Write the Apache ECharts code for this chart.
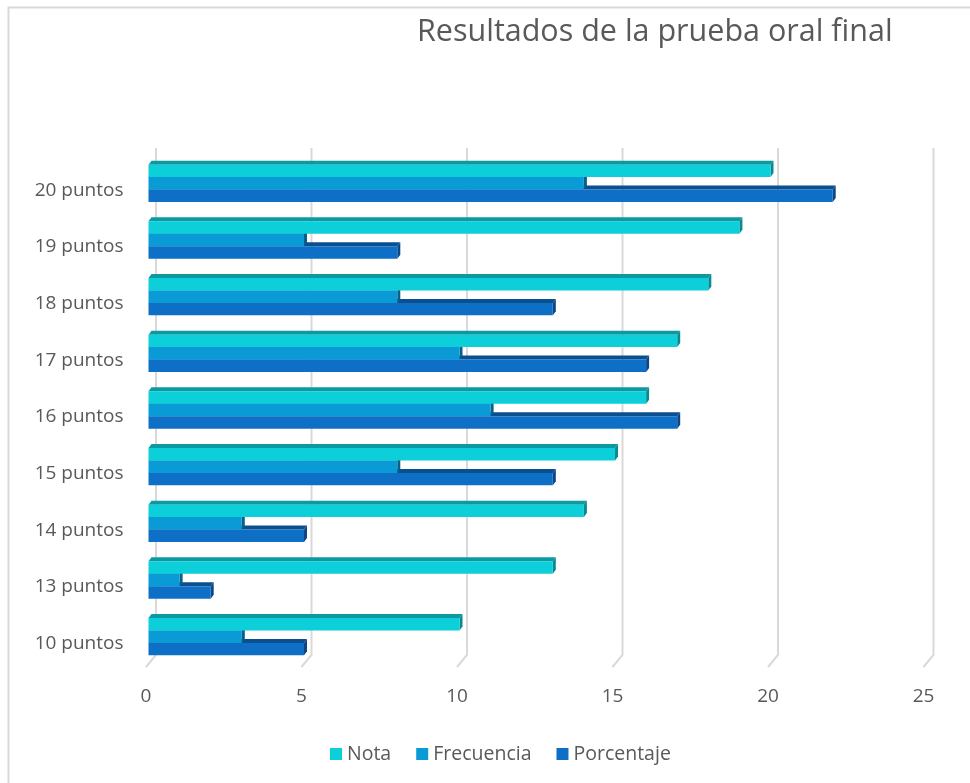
<!DOCTYPE html>
<html>
<head>
<meta charset="utf-8">
<style>
  html, body { margin: 0; padding: 0; background: #ffffff; }
  #chart { width: 970px; height: 783px; }
</style>
<script src="https://cdn.jsdelivr.net/npm/echarts@6/dist/echarts.min.js"></script>
</head>
<body>
<div id="chart"></div>
<script>
// Categories (bottom to top) and series values
const categories = ['10 puntos', '13 puntos', '14 puntos', '15 puntos', '16 puntos', '17 puntos', '18 puntos', '19 puntos', '20 puntos'];
const nota = [10, 13, 14, 15, 16, 17, 18, 19, 20];
const frecuencia = [3, 1, 3, 8, 11, 10, 8, 5, 14];
const porcentaje = [5, 2, 5, 13, 17, 16, 13, 8, 22];
const xTicks = [0, 5, 10, 15, 20, 25];
const seriesNames = ['Nota', 'Frecuencia', 'Porcentaje'];

const FONT = '"Open Sans", "Noto Sans", sans-serif';
const TEXT = '#595959';
const GRID_LINE = '#d9d9d9';

// front, top-face and side-face shades for each series
const palette = [
  { front: '#0ccfd9', top: '#0b9aa2', side: '#098a91' },
  { front: '#0a9bd7', top: '#087aab', side: '#07608a' },
  { front: '#0e6fc6', top: '#0a4f90', side: '#0a4784' }
];

const DX = 3, DY = 4;      // extrusion of the 3D bars
const WALL_DX = 7.5;       // back wall offset for the grid lines

function barRenderer(slot) {
  return function (params, api) {
    const val = api.value(0);
    const cat = api.value(1);
    const p0 = api.coord([0, cat]);
    const p1 = api.coord([val, cat]);
    const band = api.size([0, 1])[1];
    const h = band * 0.22;
    const yTop = p0[1] - 1.5 * h + slot * h;
    const yBot = yTop + h;
    const x0 = p0[0], x1 = p1[0];
    const c = palette[slot];
    return {
      type: 'group',
      children: [
        {
          type: 'polygon',
          shape: { points: [[x0, yTop], [x0 + DX, yTop - DY], [x1 + DX, yTop - DY], [x1, yTop]] },
          style: { fill: c.top }
        },
        {
          type: 'polygon',
          shape: { points: [[x1, yTop], [x1 + DX, yTop - DY], [x1 + DX, yBot - DY], [x1, yBot]] },
          style: { fill: c.side }
        },
        {
          type: 'rect',
          shape: { x: x0, y: yTop, width: x1 - x0, height: h },
          style: { fill: c.front }
        }
      ]
    };
  };
}

// vertical grid lines on the back wall, bending forward along the floor
function wallRenderer(params, api) {
  const x = api.coord([api.value(0), 0])[0];
  const cs = params.coordSys;
  const top = cs.y - 7;
  const backBottom = cs.y + cs.height - 10;
  const frontBottom = cs.y + cs.height + 2;
  return {
    type: 'polyline',
    shape: { points: [[x + WALL_DX, top], [x + WALL_DX, backBottom], [x - 2.5, frontBottom]] },
    style: { stroke: GRID_LINE, lineWidth: 2, fill: null }
  };
}

const seriesValues = [nota, frecuencia, porcentaje];

const chart = echarts.init(document.getElementById('chart'), null, { renderer: 'canvas' });

chart.setOption({
  backgroundColor: '#ffffff',
  animation: false,
  title: {
    text: 'Resultados de la prueba oral final',
    left: 412,
    top: 12,
    textStyle: { fontFamily: FONT, fontSize: 30.5, fontWeight: 'normal', color: TEXT }
  },
  legend: {
    data: seriesNames,
    top: 739,
    left: 325,
    icon: 'rect',
    itemWidth: 12,
    itemHeight: 12,
    itemGap: 25,
    textStyle: { fontFamily: FONT, fontSize: 19.5, color: TEXT }
  },
  grid: { left: 148.5, right: 44, top: 155, bottom: 118 },
  xAxis: {
    type: 'value',
    min: 0,
    max: 25,
    interval: 5,
    axisLine: { show: false },
    axisTick: { show: false },
    splitLine: { show: false },
    axisLabel: { color: TEXT, fontFamily: FONT, fontSize: 19, margin: 22, padding: [0, 5, 0, 0] }
  },
  yAxis: {
    type: 'category',
    data: categories,
    axisLine: { show: false },
    axisTick: { show: false },
    axisLabel: {
      color: TEXT, fontFamily: FONT, fontSize: 19, margin: 25,
      verticalAlign: 'top', lineHeight: 14
    }
  },
  graphic: [
    {
      type: 'polyline',
      shape: { points: [[8.5, 783], [8.5, 7.5], [970, 7.5]] },
      style: { fill: null, stroke: GRID_LINE, lineWidth: 2 },
      silent: true,
      z: -10
    }
  ],
  series: [
    {
      type: 'custom',
      name: 'wall',
      silent: true,
      z: 1,
      renderItem: wallRenderer,
      encode: { x: 0, y: 1 },
      data: xTicks.map(t => [t, 0])
    }
  ].concat(seriesNames.map((name, slot) => ({
    type: 'custom',
    name: name,
    z: 10 - slot,
    itemStyle: { color: palette[slot].front },
    renderItem: barRenderer(slot),
    encode: { x: 0, y: 1 },
    data: seriesValues[slot].map((v, i) => [v, i])
  })))
});
</script>
</body>
</html>
